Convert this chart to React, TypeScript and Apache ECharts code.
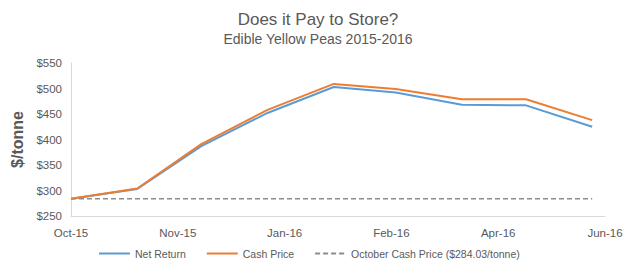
import React, { useEffect, useRef } from "react";
import * as echarts from "echarts";

const tickLabels = ["Oct-15", "Nov-15", "Jan-16", "Feb-16", "Apr-16", "Jun-16"];
// days since Oct 1, 2015 (monthly observations Oct-15 .. Jun-16)
const days = [0, 31, 61, 92, 123, 152, 183, 213, 244];
const netReturn = [284.03, 303, 387, 452, 503, 492, 468, 467, 425];
const cashPrice = [284.03, 304, 391, 458, 509, 499, 479, 479, 438];
const octCashPrice = [284.03, 284.03, 284.03, 284.03, 284.03, 284.03, 284.03, 284.03, 284.03];

const FONT = "Liberation Sans, Arial, sans-serif";
const GREY = "#595959";

export default function App() {
  const ref = useRef<HTMLDivElement>(null);
  useEffect(() => {
    if (!ref.current) return;
    const chart = echarts.init(ref.current, undefined, { renderer: "svg" });
    const pair = (vals: number[]) => days.map((d, i) => [d, vals[i]]);
    chart.setOption({
      animation: false,
      textStyle: { fontFamily: FONT },
      title: {
        text: "Does it Pay to Store?",
        subtext: "Edible Yellow Peas 2015-2016",
        left: "center",
        top: 6,
        itemGap: 4,
        textStyle: { fontFamily: FONT, fontSize: 17, fontWeight: "normal", color: GREY },
        subtextStyle: { fontFamily: FONT, fontSize: 14, color: GREY },
      },
      grid: { left: 71, right: 31, top: 63, bottom: 56, containLabel: false },
      xAxis: {
        type: "value",
        min: 0,
        max: 250,
        interval: 50,
        axisLine: { show: true, lineStyle: { color: "#d9d9d9", width: 1 } },
        axisTick: { show: false },
        splitLine: { show: false },
        axisLabel: {
          color: GREY,
          fontSize: 11.5,
          fontFamily: FONT,
          margin: 11,
          formatter: (v: number) => tickLabels[Math.round(v / 50)] ?? "",
        },
      },
      yAxis: {
        type: "value",
        min: 250,
        max: 550,
        interval: 50,
        name: "$/tonne",
        nameLocation: "middle",
        nameRotate: 90,
        nameGap: 32,
        nameTextStyle: { color: GREY, fontSize: 16, fontWeight: "bold", fontFamily: FONT },
        axisLine: { show: true, lineStyle: { color: "#d9d9d9", width: 1 } },
        axisTick: { show: false },
        splitLine: { show: false },
        axisLabel: {
          color: GREY,
          fontSize: 11.5,
          fontFamily: FONT,
          margin: 9,
          formatter: (v: number) => "$" + v,
        },
      },
      legend: {
        top: 248,
        left: 98,
        padding: 0,
        itemWidth: 31,
        itemHeight: 12,
        itemGap: 20,
        itemStyle: { opacity: 0 },
        textStyle: { color: GREY, fontSize: 10.5, fontFamily: FONT },
        data: ["Net Return", "Cash Price", "October Cash Price ($284.03/tonne)"],
      },
      series: [
        {
          name: "October Cash Price ($284.03/tonne)",
          type: "line",
          data: pair(octCashPrice),
          symbol: "none",
          lineStyle: { color: "#8c8c8c", width: 1.5, type: [5, 3] },
          itemStyle: { color: "#8c8c8c" },
        },
        {
          name: "Net Return",
          type: "line",
          data: pair(netReturn),
          symbol: "none",
          lineStyle: { color: "#5B9BD5", width: 2 },
          itemStyle: { color: "#5B9BD5" },
        },
        {
          name: "Cash Price",
          type: "line",
          data: pair(cashPrice),
          symbol: "none",
          lineStyle: { color: "#ED7D31", width: 2 },
          itemStyle: { color: "#ED7D31" },
        },
      ],
    });
    return () => chart.dispose();
  }, []);
  return (
    <div
      ref={ref}
      style={{ position: "fixed", left: 0, top: 0, width: 636, height: 272, background: "#fff" }}
    />
  );
}
